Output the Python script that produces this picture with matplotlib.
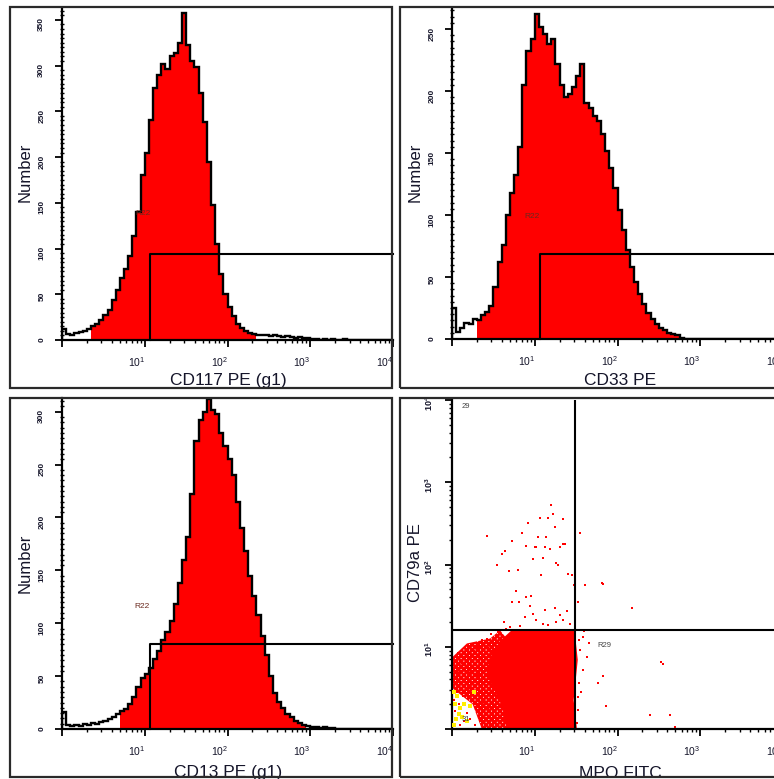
import numpy as np
import matplotlib
matplotlib.use("Agg")
import matplotlib.pyplot as plt
from matplotlib.patches import Rectangle, Polygon
from matplotlib import transforms
from matplotlib.ticker import FixedLocator, MultipleLocator, LogLocator, NullFormatter

plt.rcParams['font.family'] = ['Liberation Sans', 'DejaVu Sans']
plt.rcParams['mathtext.fontset'] = 'custom'
plt.rcParams['mathtext.rm'] = 'Liberation Sans'
plt.rcParams['mathtext.it'] = 'Liberation Sans:italic'
plt.rcParams['mathtext.bf'] = 'Liberation Sans:bold'
plt.rcParams['hatch.linewidth'] = 2.0

# ---------------- data ----------------
# histogram channels: 80 bins spanning 10^0 .. 10^4 (0.05 decade each)
cd117_counts = [12, 7, 6, 8, 9, 10, 12, 15, 18, 22,
                27, 33, 44, 55, 68, 78, 92, 114, 140, 180,
                205, 240, 276, 290, 302, 296, 310, 314, 325, 358,
                322, 305, 298, 270, 238, 195, 148, 105, 72, 50,
                36, 26, 18, 13, 10, 8, 7, 6, 5, 6,
                4, 5, 4, 3, 4, 3, 2, 3, 2, 2,
                1, 1, 0, 1, 0, 1, 0, 0, 1, 0,
                0, 0, 0, 0, 0, 0, 0, 0, 0, 0]
cd33_counts = [25, 6, 9, 13, 12, 16, 15, 19, 22, 27,
               42, 62, 76, 100, 118, 132, 155, 205, 232, 242,
               262, 252, 246, 238, 242, 222, 205, 195, 198, 203,
               212, 222, 190, 186, 180, 176, 165, 152, 138, 122,
               104, 88, 72, 58, 46, 36, 28, 21, 16, 12,
               9, 7, 5, 4, 3, 1, 0, 0, 0, 0,
               0, 0, 0, 0, 0, 0, 0, 0, 0, 0,
               0, 0, 0, 0, 0, 0, 0, 0, 0, 0]
cd13_counts = [16, 4, 3, 4, 3, 5, 4, 6, 5, 7,
               8, 9, 11, 14, 17, 19, 24, 30, 40, 48,
               52, 58, 66, 74, 84, 92, 102, 118, 138, 160,
               182, 222, 272, 292, 300, 312, 302, 298, 280, 268,
               255, 240, 215, 190, 168, 145, 126, 108, 88, 70,
               50, 34, 26, 20, 14, 11, 8, 6, 4, 3,
               2, 2, 1, 2, 1, 1, 0, 0, 0, 0,
               0, 0, 0, 0, 0, 0, 0, 0, 0, 0]

# filled (gated) intensity range of each histogram
cd117_fill = (2.2, 200.0)
cd33_fill = (1.9, 560.0)
cd13_fill = (4.6, 890.0)

# R22 marker: left intensity and height (counts)
r22_left = 11.5
r22_top = {"CD117": 94, "CD33": 68.5, "CD13": 80.5}

count_ticks = {"CD117": [0, 50, 100, 150, 200, 250, 300, 350],
               "CD33": [0, 50, 100, 150, 200, 250],
               "CD13": [0, 50, 100, 150, 200, 250, 300]}
count_max = {"CD117": 363, "CD33": 267, "CD13": 313}

decades = [1, 10, 100, 1000, 10000]
decade_labels = ['', r'$\mathregular{10^{1}}$', r'$\mathregular{10^{2}}$',
                 r'$\mathregular{10^{3}}$', r'$\mathregular{10^{4}}$']

# MPO FITC / CD79a PE dot plot, values in decades (log10 intensity)
core_mpo = [0.66, 0.61, 0.52, 0.42, 0.46, 0.58, 0.72, 1.20, 1.48, 1.52, 1.47, 1.51]
core_cd79a = [0.00, 0.27, 0.45, 0.66, 0.87, 1.07, 1.20, 1.21, 1.21, 0.84, 0.35, 0.00]

# sparse low-intensity shoulder left of the core
shoulder_mpo = [0.25, 0.00, 0.00, 0.18, 0.46, 0.58, 0.66, 0.55, 0.50, 0.60, 0.68, 0.72, 0.36]
shoulder_cd79a = [0.30, 0.50, 0.87, 1.04, 1.10, 1.20, 1.10, 0.87, 0.66, 0.45, 0.27, 0.00, 0.00]

upper_mpo = [0.42, 0.54, 0.61, 0.64, 0.69, 0.72, 0.77, 0.80, 0.73, 0.81,
             0.84, 0.90, 0.92, 0.90, 0.96, 0.98, 1.00, 1.02, 1.04, 1.06,
             1.08, 1.10, 1.12, 1.14, 1.16, 1.18, 1.20, 1.22, 1.24, 1.26,
             1.28, 1.30, 1.34, 1.34, 1.37, 1.40, 1.45, 1.48, 1.55, 1.61,
             1.81, 1.83, 1.52, 2.18, 0.94, 1.24, 1.39, 0.88, 1.02, 1.10,
             1.26, 1.34, 1.42, 1.16, 0.82, 0.70, 0.63, 0.98, 1.12, 1.30]
upper_cd79a = [2.35, 2.00, 2.13, 2.16, 1.92, 2.29, 1.68, 1.93, 1.54, 1.54,
               2.38, 2.23, 2.51, 1.60, 1.62, 2.07, 2.21, 2.21, 2.33, 2.56,
               1.87, 2.08, 2.21, 2.33, 2.56, 2.19, 2.72, 2.62, 2.45, 2.02,
               1.99, 2.21, 2.55, 2.25, 2.25, 1.89, 1.87, 1.75, 2.38, 1.75,
               1.77, 1.76, 1.54, 1.47, 1.50, 1.47, 1.44, 1.36, 1.32, 1.28,
               1.30, 1.32, 1.28, 1.26, 1.25, 1.24, 1.30, 1.40, 1.45, 1.38]

right_mpo = [1.58, 1.66, 1.63, 1.58, 1.54, 1.52, 1.52, 1.82, 1.76, 1.86,
             2.39, 2.53, 2.55, 2.63, 2.70, 1.51, 1.55, 1.60, 1.53, 1.56]
right_cd79a = [1.12, 1.04, 0.87, 0.72, 0.56, 0.39, 0.23, 0.65, 0.56, 0.28,
               0.17, 0.81, 0.79, 0.17, 0.02, 0.07, 0.96, 1.19, 1.08, 0.45]

fringe_mpo = [0.02, 0.05, 0.03, 0.08, 0.12, 0.15, 0.10, 0.06, 0.02, 0.04,
              0.09, 0.13, 0.18, 0.20, 0.22, 0.25, 0.27, 0.30, 0.32, 0.35,
              0.36, 0.28, 0.24, 0.30, 0.33, 0.38, 0.40, 0.42, 0.44, 0.38,
              0.34, 0.28, 0.22, 0.18, 0.14, 0.10, 0.48, 0.50, 0.46, 0.40,
              0.55, 0.58, 0.45, 0.48, 0.52, 0.42, 0.47, 0.56, 0.60, 0.65,
              0.26, 0.31, 0.37, 0.43, 0.17, 0.21, 0.07, 0.01, 0.33, 0.39]
fringe_cd79a = [0.85, 0.75, 0.60, 0.68, 0.80, 0.72, 0.55, 0.45, 0.35, 0.22,
                0.30, 0.40, 0.62, 0.50, 0.85, 0.75, 0.95, 0.88, 1.00, 0.92,
                1.08, 0.60, 0.35, 0.30, 0.45, 0.55, 0.70, 0.40, 0.25, 0.15,
                0.10, 0.05, 0.12, 0.20, 0.10, 0.05, 0.20, 0.08, 0.05, 0.02,
                0.30, 0.15, 0.80, 0.95, 1.05, 1.10, 1.15, 1.18, 1.20, 1.22,
                0.52, 0.66, 0.82, 0.98, 0.90, 0.68, 0.92, 0.72, 0.20, 0.33]

yellow_mpo = [0.03, 0.06, 0.04, 0.08, 0.10, 0.05, 0.14, 0.12, 0.03, 0.18, 0.22, 0.26]
yellow_cd79a = [0.45, 0.40, 0.30, 0.18, 0.25, 0.12, 0.30, 0.15, 0.05, 0.10, 0.28, 0.45]

quad_mpo = 31.0
quad_cd79a = 16.2

# ---------------- layout ----------------
W, H = 774, 779
fig = plt.figure(figsize=(W / 100, H / 100), dpi=100)
fig.patch.set_facecolor('white')
TXT = '#15152a'


def rect(x0, y0, x1, y1):
    return [x0 / W, 1 - y1 / H, (x1 - x0) / W, (y1 - y0) / H]


def frame(x0, y0, x1, y1):
    fig.patches.append(Rectangle((x0 / W, 1 - y1 / H), (x1 - x0) / W, (y1 - y0) / H,
                                 transform=fig.transFigure, fill=False,
                                 edgecolor='#2a2a2a', lw=1.6, zorder=20))


def log_x_axis(ax):
    ax.set_xscale('log')
    ax.set_xlim(1, 1e4)
    ax.xaxis.set_major_locator(FixedLocator(decades))
    ax.xaxis.set_minor_locator(LogLocator(base=10, subs=np.arange(2, 10), numticks=20))
    ax.xaxis.set_minor_formatter(NullFormatter())
    ax.set_xticklabels([])
    ax.tick_params(axis='x', which='major', direction='out', length=5, width=1.3)
    ax.tick_params(axis='x', which='minor', direction='out', length=2.5, width=1.0)
    tr = transforms.blended_transform_factory(ax.transData, ax.transAxes)
    for v, lab in zip(decades, decade_labels):
        if lab:
            ax.text(v * 10 ** -0.1, -0.066, lab, transform=tr, ha='center', va='center',
                    fontsize=7.5, color=TXT, clip_on=False)


def base_axes(ax):
    ax.set_facecolor('none')
    for s in ('top', 'right'):
        ax.spines[s].set_visible(False)
    for s in ('left', 'bottom'):
        ax.spines[s].set_linewidth(1.6)
        ax.spines[s].set_color('black')


def histogram(ax, key, counts, fill_rng, label_xy):
    base_axes(ax)
    counts = np.asarray(counts, dtype=float)
    edges = np.logspace(0, 4, len(counts) + 1)
    lo = np.searchsorted(edges, fill_rng[0])
    hi = np.searchsorted(edges, fill_rng[1])
    ax.stairs(counts[lo:hi], edges[lo:hi + 1], baseline=0, fill=True,
              color='#ff0000', lw=0, zorder=2)
    ax.stairs(counts, edges, baseline=0, fill=False, color='black', lw=1.7, zorder=3)
    top = r22_top[key]
    ax.plot([r22_left, r22_left, 1e4], [0, top, top], color='black', lw=1.5,
            zorder=4, clip_on=False)
    ax.text(label_xy[0], label_xy[1], 'R22', fontsize=6, color='#6b2a1f',
            ha='center', va='center', zorder=5)
    log_x_axis(ax)
    ax.set_ylim(0, count_max[key])
    ax.yaxis.set_major_locator(FixedLocator(count_ticks[key]))
    ax.yaxis.set_minor_locator(MultipleLocator(5))
    ax.set_yticklabels([str(t) for t in count_ticks[key]], fontweight='bold')
    ax.tick_params(axis='y', which='major', direction='out', length=5, width=1.3,
                   labelsize=6, labelrotation=90, pad=7, labelcolor=TXT)
    ax.tick_params(axis='y', which='minor', direction='inout', length=3, width=1.0)


# frames around each panel
frame(10, 7, 392, 388)
frame(400, 7, 790, 388)
frame(10, 398, 392, 777)
frame(400, 398, 790, 777)

ax1 = fig.add_axes(rect(62, 8, 393, 340))
histogram(ax1, "CD117", cd117_counts, cd117_fill, (9.5, 138))
ax2 = fig.add_axes(rect(452, 8, 783, 339))
histogram(ax2, "CD33", cd33_counts, cd33_fill, (9.2, 99))
ax3 = fig.add_axes(rect(62, 398, 393, 729))
histogram(ax3, "CD13", cd13_counts, cd13_fill, (9.2, 116))

# dot plot
ax4 = fig.add_axes(rect(452, 400, 783, 729))
base_axes(ax4)
log_x_axis(ax4)
ax4.set_yscale('log')
ax4.set_ylim(1, 1e4)
ax4.yaxis.set_major_locator(FixedLocator(decades))
ax4.yaxis.set_minor_locator(LogLocator(base=10, subs=np.arange(2, 10), numticks=20))
ax4.yaxis.set_minor_formatter(NullFormatter())
ax4.set_yticklabels(decade_labels, fontweight='bold')
ax4.tick_params(axis='y', which='major', direction='out', length=5, width=1.3,
                labelsize=6.5, labelrotation=90, pad=7, labelcolor=TXT)
ax4.tick_params(axis='y', which='minor', direction='out', length=2.5, width=1.0)

ax4.add_patch(Polygon(np.column_stack([10 ** np.array(shoulder_mpo),
                                       10 ** np.array(shoulder_cd79a)]),
                      closed=True, fill=False, hatch='xxxxxx', edgecolor='#ff0000',
                      lw=0, zorder=1))
ax4.fill(10 ** np.array(core_mpo), 10 ** np.array(core_cd79a), color='#ff0000', lw=0, zorder=2)
ax4.scatter(10 ** np.array(fringe_mpo), 10 ** np.array(fringe_cd79a), s=4, marker='s',
            color='#ff0000', lw=0, zorder=2)
ax4.scatter(10 ** np.array(upper_mpo), 10 ** np.array(upper_cd79a), s=4, marker='s',
            color='#ff0000', lw=0, zorder=2)
ax4.scatter(10 ** np.array(right_mpo), 10 ** np.array(right_cd79a), s=4, marker='s',
            color='#ff0000', lw=0, zorder=2)
ax4.scatter(10 ** np.array(yellow_mpo), 10 ** np.array(yellow_cd79a), s=5, marker='s',
            color='#ffee00', lw=0, zorder=3)
ax4.axvline(quad_mpo, color='black', lw=1.5, zorder=4)
ax4.axhline(quad_cd79a, color='black', lw=1.5, zorder=4)
for (qx, qy, qt) in [(1.3, 8300, '29'), (7600, 8300, '29'), (1.3, 1.3, '31'),
                     (7600, 1.3, '29'), (57, 10.5, 'R29')]:
    ax4.text(qx, qy, qt, fontsize=5.5, color='#444444', ha='left', va='center', zorder=5)

# axis titles
def ftext(x, y, s, **kw):
    fig.text(x / W, 1 - y / H, s, color=TXT, ha='center', va='center', **kw)


ftext(228, 381, 'CD117 PE (g1)', fontsize=12.5)
ftext(620, 381, 'CD33 PE', fontsize=12.5)
ftext(228, 772, 'CD13 PE (g1)', fontsize=12.5)
ftext(620, 773, 'MPO FITC', fontsize=12.5)
ftext(25, 172, 'Number', fontsize=12, rotation=90)
ftext(415, 172, 'Number', fontsize=12, rotation=90)
ftext(25, 563, 'Number', fontsize=12, rotation=90)
ftext(415, 563, 'CD79a PE', fontsize=12, rotation=90)

fig.savefig('out.png', dpi=100)
